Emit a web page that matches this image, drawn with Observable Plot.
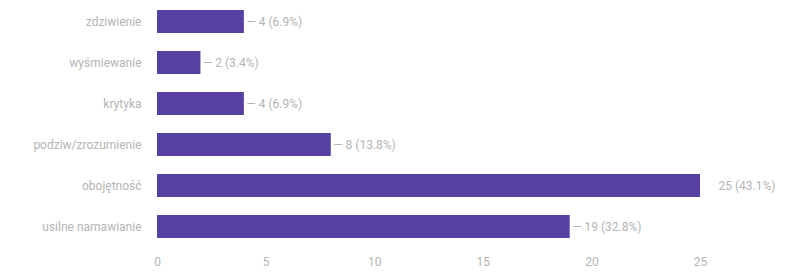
<!DOCTYPE html>
<html>
<head>
<meta charset="utf-8">
<script src="https://cdn.jsdelivr.net/npm/d3@7"></script>
<script src="https://cdn.jsdelivr.net/npm/@observablehq/plot@0.6"></script>
<style>
  body { margin: 0; background: #fff; }
</style>
</head>
<body>
<div id="chart"></div>
<script>
const categories = ["zdziwienie", "wyśmiewanie", "krytyka", "podziw/zrozumienie", "obojętność", "usilne namawianie"];
const counts = [4, 2, 4, 8, 25, 19];
const percents = ["6.9%", "3.4%", "6.9%", "13.8%", "43.1%", "32.8%"];
const xTicks = [0, 5, 10, 15, 20, 25];

const data = categories.map((c, i) => ({cat: c, n: counts[i], pct: percents[i], stem: counts[i] !== d3.max(counts)}));

const chart = Plot.plot({
  width: 792,
  height: 272,
  marginLeft: 157,
  marginRight: 92,
  marginTop: 0,
  marginBottom: 24,
  style: {fontFamily: "Roboto, Arial, sans-serif", fontSize: "12px", color: "#b4b4b4", background: "#fff"},
  x: {domain: [0, 25], ticks: xTicks, tickSize: 0, tickPadding: 9, label: null},
  y: {domain: categories, paddingInner: 0.44, paddingOuter: 0.22, tickSize: 0, tickPadding: 16, label: null},
  marks: [
    Plot.barX(data, {x: "n", y: "cat", fill: "#5641a3"}),
    Plot.text(data.filter(d => d.stem), {x: "n", y: "cat", text: d => "— " + d.n + " (" + d.pct + ")", textAnchor: "start", dx: 2, fill: "#b4b4b4", fontSize: 12}),
    Plot.text(data.filter(d => !d.stem), {x: "n", y: "cat", text: d => d.n + " (" + d.pct + ")", textAnchor: "start", dx: 18, fill: "#b4b4b4", fontSize: 12})
  ]
});
document.getElementById("chart").appendChild(chart);
</script>
</body>
</html>
